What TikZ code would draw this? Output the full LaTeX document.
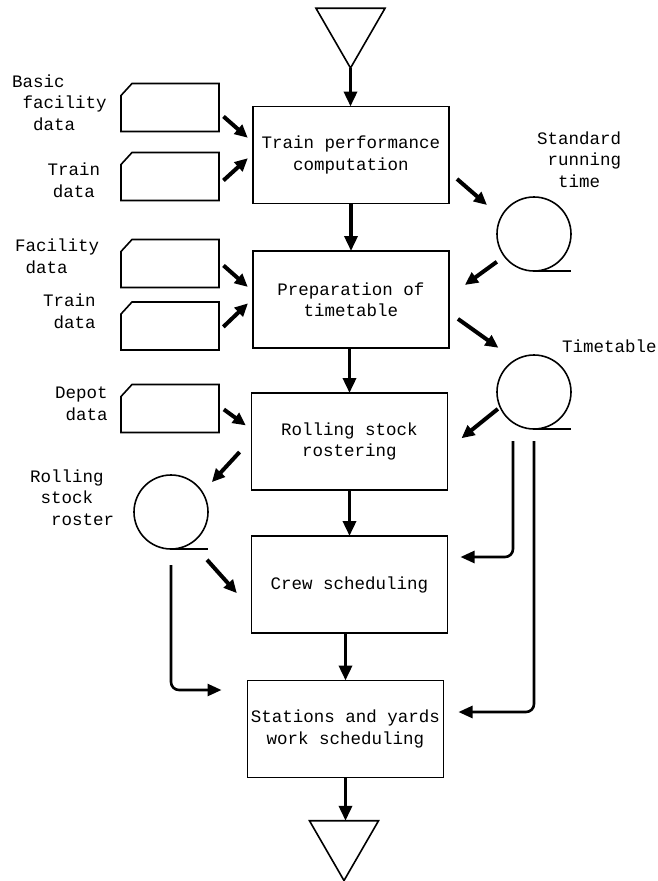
\documentclass[tikz,border=0pt]{standalone}
\usepackage{fontspec}
\setmonofont{Liberation Mono}
\usepackage{tikz}
\usetikzlibrary{arrows.meta,shapes.geometric}

\begin{document}
\begin{tikzpicture}[x=1pt, y=-1pt,
    font=\ttfamily\fontsize{17.5}{21.5}\selectfont,
    box/.style={draw, line width=1.6pt, minimum width=196pt, minimum height=97pt, inner sep=2pt, outer sep=0pt, align=center},
    card/.style={minimum width=98pt, minimum height=48pt, inner sep=0pt, outer sep=0pt},
    tape/.style={draw, circle, line width=1.6pt, minimum size=74pt, inner sep=0pt, outer sep=0pt},
    term/.style={draw, regular polygon, regular polygon sides=3, shape border rotate=180, minimum size=79.7pt, inner sep=0pt, outer sep=0pt, line width=1.6pt},
    lbl/.style={align=left, anchor=base west, inner sep=0pt},
    flow/.style={-{Triangle[length=15pt,width=13pt]}, line width=3.5pt},
    feed/.style={-{Triangle[length=13pt,width=12pt]}, line width=4pt, shorten <=6pt, shorten >=7pt},
    side/.style={-{Triangle[length=14pt,width=12pt]}, line width=2.6pt, rounded corners=8pt}]
  \useasboundingbox (0,0) rectangle (657,881);

  % terminals
  \node[term] (start) at (350.5,28.2) {};
  \node[term] (stop) at (344,840.7) {};

  % processing steps
  \node[box] (perf) at (351,155) {Train performance\\computation};
  \node[box] (prep) at (351,299.5) {Preparation of\\timetable};
  \node[box] (roll) at (349.5,441.5) {Rolling stock\\rostering};
  \node[box] (crew) at (349.5,584.5) {Crew scheduling};
  \node[box] (work) at (345.5,729) {Stations and yards\\work scheduling};

  % input cards
  \node[card] (basic) at (170,107.5) {};
  \node[card] (train1) at (170,176.5) {};
  \node[card] (fac) at (170,263.5) {};
  \node[card] (train2) at (170,326) {};
  \node[card] (depot) at (170,408.5) {};
  \foreach \c in {basic,train1,fac,train2,depot}
    \draw[line width=1.6pt] ([yshift=-12pt]\c.north west) -- ([xshift=11pt]\c.north west)
      -- (\c.north east) -- (\c.south east) -- (\c.south west) -- cycle;

  % tapes
  \node[tape] (srt) at (534,234) {};
  \node[tape] (ttb) at (534,392) {};
  \node[tape] (rsr) at (171,512) {};
  \foreach \t in {srt,ttb,rsr}
    \draw[line width=1.6pt] (\t.south) -- ++(37,0);

  % labels (base = last line)
  \node[lbl] (lbasic) at (12,130) {Basic\\\phantom{x}facility\\\phantom{xx}data};
  \node[lbl, align=center, anchor=base] (ltrain1) at (74,197) {Train\\data};
  \node[lbl] (lfac) at (15,273) {Facility\\\phantom{x}data};
  \node[lbl] (ltrain2) at (43,328) {Train\\\phantom{x}data};
  \node[lbl] (ldepot) at (55,420) {Depot\\\phantom{x}data};
  \node[lbl] (lrsr) at (30,525) {Rolling\\\phantom{x}stock\\\phantom{xx}roster};
  \node[lbl] (lsrt) at (537,187) {Standard\\\phantom{x}running\\\phantom{xx}time};
  \node[lbl] (lttb) at (562,352) {Timetable};

  % main flow
  \draw[flow] (start.corner 1) -- (start.corner 1 |- perf.north);
  \draw[flow] (perf.south) -- (perf.south |- prep.north);
  \draw[flow] (prep.south -| roll.north) -- (roll.north);
  \draw[flow] (roll.south) -- (roll.south |- crew.north);
  \draw[flow] (crew.south -| work.north) -- (work.north);
  \draw[flow] (work.south) -- (work.south |- stop.side 2);

  % data into the steps
  \draw[feed] ([yshift=-5pt]basic.east) -- ([yshift=12.6pt]perf.west);
  \draw[feed] ([yshift=-8pt]train1.east) -- ([yshift=1.5pt]perf.west);
  \draw[feed] ([yshift=2pt]fac.east) -- ([yshift=8pt]prep.west);
  \draw[feed] ([yshift=-5pt]train2.east) -- ([yshift=1pt]prep.west);
  \draw[feed] ([yshift=2.6pt]depot.east) -- ([yshift=12pt]roll.west);

  % tapes in and out
  \draw[feed, shorten <=10.6pt, shorten >=18.6pt] ([yshift=-17pt]perf.east) -- (srt.153);
  \draw[feed, shorten <=9.4pt, shorten >=19.7pt] (srt.217) -- ([yshift=3pt]prep.east);
  \draw[feed, shorten <=11pt, shorten >=21pt] ([yshift=-13pt]prep.east) -- (ttb.120);
  \draw[feed, shorten <=3pt, shorten >=18pt] (ttb.204) -- ([yshift=-8pt]roll.east);
  \draw[feed, shorten <=17.6pt, shorten >=14pt] ([yshift=2.4pt]roll.west) -- (rsr.32);
  \draw[feed, shorten <=23pt, shorten >=22pt] (rsr.-56) -- ([yshift=-25pt]crew.west);

  % long runs
  \draw[side, shorten <=16pt, shorten >=26pt] (rsr.south) |- ([yshift=39pt]work.west);
  \draw[side, shorten <=12pt, shorten >=13pt] ([xshift=-21pt]ttb.south) |- ([yshift=27.5pt]crew.east);
  \draw[side, shorten <=12pt, shorten >=15pt] (ttb.south) |- ([yshift=17pt]work.east);
\end{tikzpicture}
\end{document}
